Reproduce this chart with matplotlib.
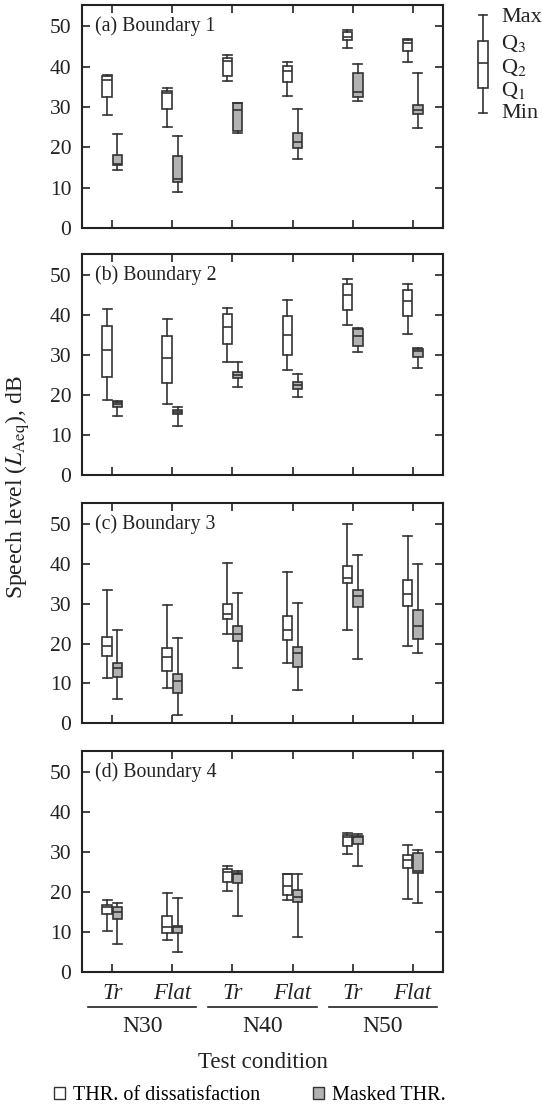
import matplotlib
matplotlib.use('Agg')
import matplotlib.pyplot as plt
import numpy as np
from matplotlib.patches import Patch

plt.rcParams['font.family'] = ['Liberation Serif', 'DejaVu Serif']
plt.rcParams['mathtext.fontset'] = 'stix'

conditions = ['Tr', 'Flat', 'Tr', 'Flat', 'Tr', 'Flat']
noise_groups = ['N30', 'N40', 'N50']
panel_titles = ['(a) Boundary 1', '(b) Boundary 2', '(c) Boundary 3', '(d) Boundary 4']
series_names = ['THR. of dissatisfaction', 'Masked THR.']

# each row: [min, Q1, median, Q3, max], one row per test condition
b1_thr = [[28.0, 32.6, 36.7, 37.7, 37.9], [25.0, 29.5, 33.4, 34.0, 34.8], [36.5, 37.6, 41.5, 42.1, 42.8],
          [32.8, 36.1, 39.0, 40.2, 41.1], [44.7, 46.7, 47.3, 48.5, 49.0], [41.2, 44.0, 46.0, 46.6, 46.8]]
b1_mask = [[14.4, 15.6, 15.8, 18.1, 23.3], [9.0, 11.3, 12.2, 17.9, 22.8], [23.6, 24.1, 29.3, 30.9, 30.9],
           [17.2, 19.9, 21.3, 23.6, 29.5], [31.4, 32.4, 33.8, 38.5, 40.7], [24.8, 28.2, 29.3, 30.4, 38.5]]

b2_thr = [[18.9, 24.6, 31.3, 37.2, 41.5], [17.9, 23.1, 29.2, 34.8, 39.0], [28.4, 32.7, 37.0, 40.3, 41.8],
          [26.2, 30.0, 35.0, 39.8, 43.8], [37.6, 41.3, 45.0, 47.9, 49.0], [35.2, 39.8, 43.6, 46.3, 47.8]]
b2_mask = [[14.8, 17.1, 17.7, 18.3, 18.5], [12.3, 15.3, 15.8, 16.4, 17.1], [22.1, 24.3, 25.1, 25.8, 28.4],
           [19.6, 21.6, 22.6, 23.4, 25.2], [30.7, 32.4, 34.7, 36.5, 36.7], [26.7, 29.5, 31.0, 31.6, 31.8]]

b3_thr = [[11.4, 16.9, 19.5, 21.7, 33.4], [8.9, 13.0, 16.6, 18.8, 29.7], [22.4, 26.2, 27.5, 29.8, 40.1],
          [15.0, 20.8, 23.3, 27.0, 37.9], [23.3, 35.1, 36.3, 39.4, 50.0], [19.5, 29.3, 32.5, 35.9, 46.9]]
b3_mask = [[6.0, 11.7, 13.8, 15.2, 23.5], [2.1, 7.6, 10.5, 12.3, 21.3], [13.8, 20.7, 22.4, 24.3, 32.6],
           [8.4, 14.0, 17.5, 19.2, 30.1], [16.0, 29.2, 31.9, 33.4, 42.1], [17.7, 21.2, 24.3, 28.3, 39.9]]

b4_thr = [[10.1, 14.5, 16.1, 16.8, 18.0], [7.9, 9.6, 11.1, 14.0, 19.6], [20.2, 22.5, 25.0, 25.6, 26.4],
          [18.0, 19.2, 21.5, 24.5, 24.5], [29.5, 31.5, 33.7, 34.1, 34.8], [18.3, 25.9, 27.9, 29.3, 31.6]]
b4_mask = [[6.9, 13.2, 15.0, 16.1, 17.2], [5.0, 9.8, 11.1, 11.5, 18.4], [14.0, 22.3, 24.4, 24.6, 25.2],
           [8.8, 17.5, 18.8, 20.4, 24.5], [26.5, 32.0, 33.6, 34.0, 34.4], [17.1, 24.6, 25.3, 29.6, 30.4]]

panels = [(b1_thr, b1_mask), (b2_thr, b2_mask), (b3_thr, b3_mask), (b4_thr, b4_mask)]

EDGE = '#333333'
GREY = '#b2b2b2'
INK = '#222222'
W, H = 542, 1110
FS_TICK = 15.5
FS_TITLE = 14.3
FS_LABEL = 16.5


def to_stats(rows):
    return [dict(whislo=r[0], q1=r[1], med=r[2], q3=r[3], whishi=r[4], fliers=[]) for r in rows]


def draw_boxes(ax, rows, pos, face, w=0.16):
    ax.bxp(to_stats(rows), positions=pos, widths=w, capwidths=w * 0.95,
           showfliers=False, patch_artist=True, manage_ticks=False,
           boxprops=dict(facecolor=face, edgecolor=EDGE, linewidth=1.2),
           medianprops=dict(color=EDGE, linewidth=1.2),
           whiskerprops=dict(color=EDGE, linewidth=1.2),
           capprops=dict(color=EDGE, linewidth=1.2))


fig = plt.figure(figsize=(W / 100, H / 100), dpi=100)

# panel extents in pixels (top, bottom)
extents = [(5, 228), (254, 475.3), (502.7, 723.3), (750.7, 971.7)]
ax_left, ax_right = 82.3, 442.7
x = np.arange(1, 7)
axes = []
for i, ((thr, mask), (top, bot)) in enumerate(zip(panels, extents)):
    ax = fig.add_axes([ax_left / W, 1 - bot / H, (ax_right - ax_left) / W, (bot - top) / H])
    draw_boxes(ax, thr, x - 0.085, 'white')
    draw_boxes(ax, mask, x + 0.085, GREY)
    ax.set_xlim(0.5, 6.5)
    ax.set_ylim(0, 55.3)
    ax.set_yticks([0, 10, 20, 30, 40, 50])
    ax.set_xticks(x)
    ax.tick_params(direction='in', top=True, right=True, length=5.5, width=1.2,
                   labelsize=FS_TICK, pad=8, colors=INK)
    ax.tick_params(axis='x', pad=8)
    for s in ax.spines.values():
        s.set_linewidth(1.5)
        s.set_color(INK)
    ax.text(0.036, 50, panel_titles[i], transform=ax.get_yaxis_transform(),
            ha='left', va='center', fontsize=FS_TITLE, color=INK)
    if i < 3:
        ax.set_xticklabels([])
    else:
        ax.set_xticklabels(conditions, fontstyle='italic', fontsize=FS_LABEL)
    axes.append(ax)

# grouping lines and noise labels under the last panel
ax = axes[-1]
tr = ax.get_xaxis_transform()
for k, g in enumerate(noise_groups):
    c = 1.5 + 2 * k
    ax.plot([c - 0.9, c + 0.9], [-0.16, -0.16], transform=tr, color=INK,
            linewidth=1.2, clip_on=False)
    ax.text(c, -0.25, g, transform=tr, ha='center', va='center', fontsize=FS_LABEL + 0.5, color=INK)

fig.text((ax_left + ax_right) / 2 / W, 1 - 1062 / H, 'Test condition', ha='center', va='center',
         fontsize=FS_LABEL, color=INK)
fig.text(18 / W, 1 - 487 / H, r'Speech level ($L_{\mathrm{Aeq}}$), dB', rotation=90,
         ha='center', va='center', fontsize=FS_LABEL + 0.5, color=INK)

# key explaining the box glyph
kax = fig.add_axes([470 / W, 1 - 120 / H, 26 / W, 110 / H])
kax.bxp([dict(whislo=0.061, q1=0.288, med=0.515, q3=0.721, whishi=0.955, fliers=[])],
        positions=[0.5], widths=0.36, capwidths=0.34, showfliers=False, patch_artist=True,
        boxprops=dict(facecolor='white', edgecolor=EDGE, linewidth=1.2),
        medianprops=dict(color=EDGE, linewidth=1.2),
        whiskerprops=dict(color=EDGE, linewidth=1.2),
        capprops=dict(color=EDGE, linewidth=1.2))
kax.set_xlim(0, 1)
kax.set_ylim(0, 1)
kax.axis('off')
for lab, ypx in zip(['Max', r'Q$_3$', r'Q$_2$', r'Q$_1$', 'Min'], [17, 43, 67, 90, 113]):
    fig.text(501 / W, 1 - ypx / H, lab, ha='left', va='center', fontsize=16, color=INK)

handles = [Patch(facecolor='white', edgecolor=EDGE, linewidth=1.0),
           Patch(facecolor=GREY, edgecolor=EDGE, linewidth=1.0)]
fig.legend(handles, series_names, loc='center', bbox_to_anchor=(250 / W, 1 - 1096 / H), ncol=2,
           frameon=False, fontsize=14.5, handlelength=0.55, handleheight=0.55, handletextpad=0.4,
           columnspacing=2.6, borderpad=0)

fig.savefig('out.png', dpi=100)
